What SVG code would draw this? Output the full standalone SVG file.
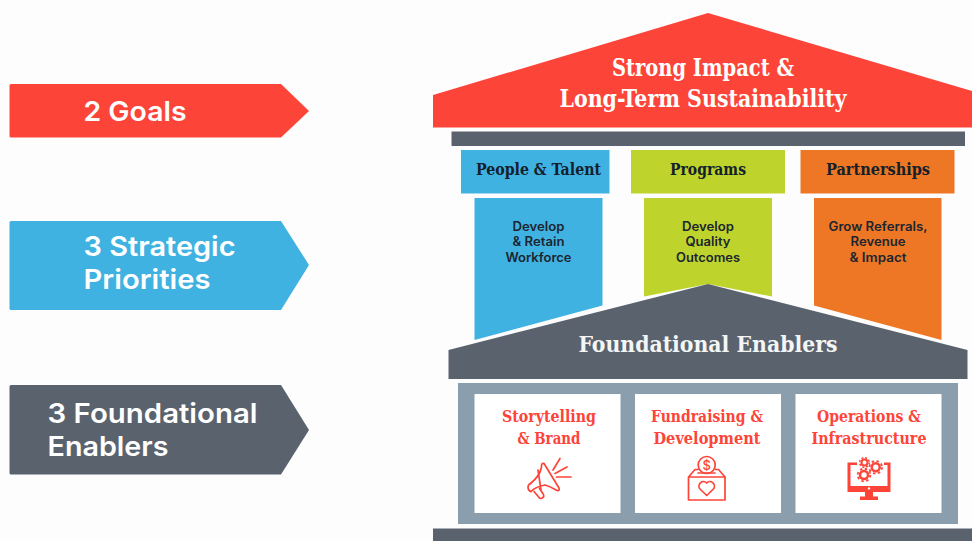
<svg xmlns="http://www.w3.org/2000/svg" width="972" height="541" viewBox="0 0 972 541">
<style>
.s{font-family:"DejaVu Serif Condensed","DejaVu Serif",serif;font-weight:700;text-anchor:middle}
.m{font-family:Inter,"Noto Sans",sans-serif;text-anchor:middle}
.tag{font-family:Inter,"Noto Sans",sans-serif;font-weight:600;font-size:27.5px;fill:#fff}
.sub{font-size:12.500px;font-weight:600;fill:#1c2530}
.ic{fill:none;stroke:#fd4438;stroke-width:1.7;stroke-linejoin:round;stroke-linecap:round}
.red{fill:#fd4438;font-size:16.500px}
.hd{font-size:17px;fill:#14202a}
</style>
<rect width="972" height="541" fill="#fefdfe"/>
<g id="tag-goals"><path d="M11 84H281L309 111L281 137.500H11Q9.500 137.500 9.500 136V85.500Q9.500 84 11 84Z" fill="#fd4438"/><text class="tag" x="83.500" y="120.500" textLength="103" lengthAdjust="spacingAndGlyphs">2 Goals</text></g>
<g id="tag-priorities"><path d="M11 221H281L309 265L281 310H11Q9.500 310 9.500 308.500V222.500Q9.500 221 11 221Z" fill="#40b2e2"/><text class="tag" x="83.500" y="256" textLength="152" lengthAdjust="spacingAndGlyphs">3 Strategic</text><text class="tag" x="83.500" y="289" textLength="127" lengthAdjust="spacingAndGlyphs">Priorities</text></g>
<g id="tag-enablers"><path d="M11 385H281L309 430L281 474.500H11Q9.500 474.500 9.500 473V386.500Q9.500 385 11 385Z" fill="#5a636d"/><text class="tag" x="47.500" y="423" textLength="210" lengthAdjust="spacingAndGlyphs">3 Foundational</text><text class="tag" x="47.500" y="456" textLength="121" lengthAdjust="spacingAndGlyphs">Enablers</text></g>
<g id="roof"><path d="M433 127.500V95L708 13L972 91V127.500Z" fill="#fd4438"/><text class="s" x="703" y="76" font-size="23.500" fill="#fff" textLength="182" lengthAdjust="spacingAndGlyphs">Strong Impact &amp;</text><text class="s" x="703" y="106.500" font-size="23.500" fill="#fff" textLength="287" lengthAdjust="spacingAndGlyphs">Long-Term Sustainability</text></g>
<rect id="beam" x="451.500" y="131.500" width="513.500" height="14.500" fill="#5a636d"/>
<g id="people"><rect x="461" y="150" width="148.500" height="43.500" fill="#40b2e2"/><text class="s hd" x="538.500" y="175" textLength="125" lengthAdjust="spacingAndGlyphs">People &amp; Talent</text><path d="M474.500 198H602.500V305.500L474.500 340Z" fill="#40b2e2"/><text class="m sub" x="538.500" y="231" textLength="52" lengthAdjust="spacingAndGlyphs">Develop</text><text class="m sub" x="538.500" y="246" textLength="52" lengthAdjust="spacingAndGlyphs">&amp; Retain</text><text class="m sub" x="538.500" y="262" textLength="66" lengthAdjust="spacingAndGlyphs">Workforce</text></g>
<g id="programs"><rect x="631" y="150" width="154" height="43.500" fill="#bed42c"/><text class="s hd" x="708" y="175" textLength="76" lengthAdjust="spacingAndGlyphs">Programs</text><path d="M644 198H772V296.500L708 284L644 296.500Z" fill="#bed42c"/><text class="m sub" x="708" y="231" textLength="52" lengthAdjust="spacingAndGlyphs">Develop</text><text class="m sub" x="708" y="246" textLength="45" lengthAdjust="spacingAndGlyphs">Quality</text><text class="m sub" x="708" y="262" textLength="64" lengthAdjust="spacingAndGlyphs">Outcomes</text></g>
<g id="partnerships"><rect x="800.500" y="150" width="154" height="43.500" fill="#ed7724"/><text class="s hd" x="878" y="175" textLength="104" lengthAdjust="spacingAndGlyphs">Partnerships</text><path d="M814 198H941.500V340L814 305.500Z" fill="#ed7724"/><text class="m sub" x="878" y="231" textLength="99" lengthAdjust="spacingAndGlyphs">Grow Referrals,</text><text class="m sub" x="878" y="246" textLength="55" lengthAdjust="spacingAndGlyphs">Revenue</text><text class="m sub" x="878" y="262" textLength="57" lengthAdjust="spacingAndGlyphs">&amp; Impact</text></g>
<g id="enablers-roof"><path d="M448.500 379V350L708 284L967.500 350V379Z" fill="#5a636d"/><text class="s" x="708" y="352" font-size="21.500" fill="#f4f5f5" textLength="259" lengthAdjust="spacingAndGlyphs">Foundational Enablers</text></g>
<rect id="enablers-frame" x="458" y="383" width="500" height="141" fill="#8a9eae"/>
<g id="storytelling"><rect x="474.500" y="394" width="146" height="119" fill="#fff"/><text class="s red" x="549" y="422" textLength="94" lengthAdjust="spacingAndGlyphs">Storytelling</text><text class="s red" x="549" y="444" textLength="63" lengthAdjust="spacingAndGlyphs">&amp; Brand</text>
<g class="ic"><path d="M544 463.500L559 488Q560 491 557 490.500Q549 486 545 485Q535 487 531 491.500M544 463.500Q541 463 541.500 467Q540 476 530.500 483.500"/><path d="M541 490L538 470M530.500 483.500a4.300 4.300 0 0 0 0.500 8M534 491.500L539.500 498a2.800 2.800 0 0 0 4 -3.500L539.500 488.500" /><path d="M560 458.500L553 470M567 467L555 473.500M571 477H556.500"/></g></g>
<g id="fundraising"><rect x="635" y="394" width="146" height="119" fill="#fff"/><text class="s red" x="707" y="422" textLength="112" lengthAdjust="spacingAndGlyphs">Fundraising &amp;</text><text class="s red" x="707" y="444" textLength="107" lengthAdjust="spacingAndGlyphs">Development</text>
<g class="ic"><circle cx="706.700" cy="465" r="8.500"/><path d="M698 469.500H695L688.500 477V500H725V477L718.500 469.500H715.500M688.500 477H725M698 473H715"/><path d="M706.700 495.500L700 489a4.500 4.500 0 0 1 6.700 -6a4.500 4.500 0 0 1 6.700 6Z"/></g><text x="706.700" y="470" font-family="Inter,sans-serif" font-size="13" font-weight="500" fill="#fd4438" text-anchor="middle">$</text></g>
<g id="operations"><rect x="795.500" y="394" width="146" height="119" fill="#fff"/><text class="s red" x="869" y="422" textLength="104" lengthAdjust="spacingAndGlyphs">Operations &amp;</text><text class="s red" x="869" y="444" textLength="115" lengthAdjust="spacingAndGlyphs">Infrastructure</text>
<path fill-rule="evenodd" d="M847.500 462.500H857V465H850.500V486H887.500V465H884V462.500H890.500V492H847.500ZM869 487.200a1.200 1.200 0 1 0 0.010 0ZM865 492H873V496.500H878V500H860V496.500H865Z" fill="#fd4438"/>
<g fill="none" stroke="#fd4438"><circle cx="864.500" cy="462.500" r="3" stroke-width="2"/><circle cx="875.700" cy="467.300" r="4" stroke-width="2.500"/><circle cx="864" cy="475" r="4" stroke-width="2.500"/><circle cx="864.500" cy="462.500" r="4.800" stroke-width="1.500" stroke-dasharray="2 1.770"/><circle cx="875.700" cy="467.300" r="6.300" stroke-width="1.800" stroke-dasharray="2.500 2.450"/><circle cx="864" cy="475" r="6.300" stroke-width="1.800" stroke-dasharray="2.500 2.450"/></g></g>
<rect id="base" x="433" y="528.500" width="539" height="12.500" fill="#5a636d"/>
</svg>
